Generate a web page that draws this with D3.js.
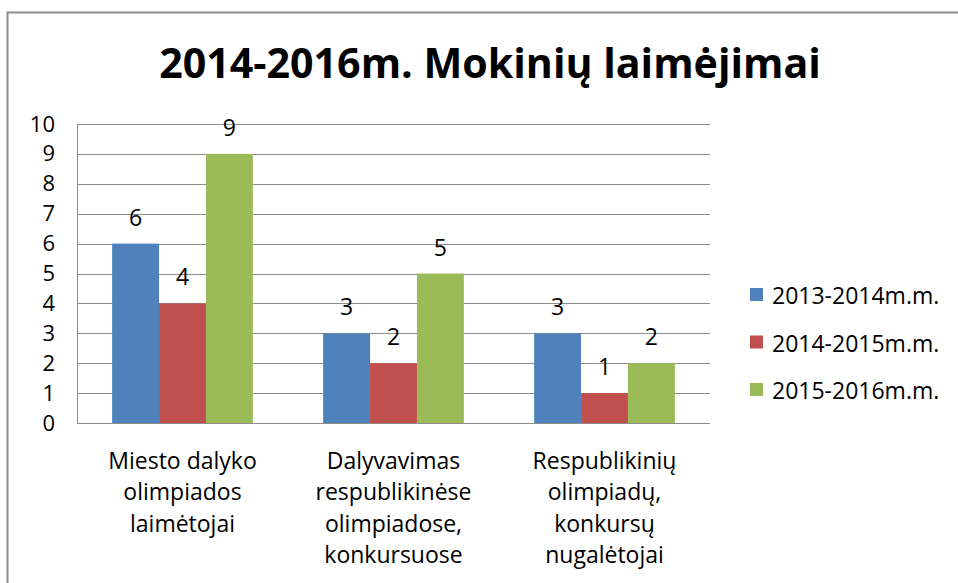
<!DOCTYPE html>
<html lang="en">
    <head>
        <meta charset="utf-8">
        <title>Mokinių laimėjimai</title>
        <script src="https://d3js.org/d3.v7.min.js"></script>
        <style media="screen">
        body { margin: 0; background: #fff; }
        text { font-family: "Open Sans", Lato, sans-serif; fill: #000; }
        .axis path, .axis line { fill: none; stroke: #8c8c8c; shape-rendering: crispEdges; }
        .axis text { font-size: 22px; font-family: "Open Sans", sans-serif; }
        .axis text.cat-label { font-size: 23px; }
        .grid line { stroke: #8c8c8c; shape-rendering: crispEdges; }
        </style>
    </head>
    <body>
        <script type="text/javascript">
        'use strict'
        let categories = [
          "Miesto dalyko\nolimpiados\nlaimėtojai",
          "Dalyvavimas\nrespublikinėse\nolimpiadose,\nkonkursuose",
          "Respublikinių\nolimpiadų,\nkonkursų\nnugalėtojai"
        ]
        let seriesNames = ["2013-2014m.m.", "2014-2015m.m.", "2015-2016m.m."]
        let series1 = [6, 3, 3]
        let series2 = [4, 2, 1]
        let series3 = [9, 5, 2]
        let yTicks = [0, 1, 2, 3, 4, 5, 6, 7, 8, 9, 10]
        let colors = ["#4F81BD", "#C0504D", "#9BBB59"]
        let title = "2014-2016m. Mokinių laimėjimai"

        let allSeries = [series1, series2, series3]
        let w = 958, h = 583
        let plot = {left: 77, right: 710, top: 124, bottom: 423}

        let svg = d3.select("body").append("svg")
          .attr("width", w).attr("height", h)

        // outer chart border
        svg.append("rect")
          .attr("x", 7.5).attr("y", 12.5)
          .attr("width", 970).attr("height", 600)
          .attr("fill", "none").attr("stroke", "#8c8c8c").attr("stroke-width", 2)

        let t = svg.append("text")
          .attr("x", 490).attr("y", 78)
          .attr("text-anchor", "middle")
          .attr("font-family", "Lato, sans-serif")
          .attr("font-weight", "bold")
          .attr("font-size", "40px")
          .text(title)
        // fit title to the reference width
        let tw = t.node().getComputedTextLength()
        t.attr("font-size", (40 * 662 / tw) + "px")

        let x0 = d3.scaleBand()
          .domain(d3.range(categories.length))
          .range([plot.left, plot.right])
          .paddingInner(0.333).paddingOuter(0.1665)
        let x1 = d3.scaleBand()
          .domain(d3.range(allSeries.length))
          .range([0, x0.bandwidth()])
        let y = d3.scaleLinear()
          .domain([0, 10])
          .range([plot.bottom, plot.top])

        svg.append("g").attr("class", "grid")
          .selectAll("line").data(yTicks.slice(1)).enter().append("line")
          .attr("x1", plot.left).attr("x2", plot.right)
          .attr("y1", d => Math.round(y(d)) + 0.5).attr("y2", d => Math.round(y(d)) + 0.5)

        let groups = svg.selectAll("g.cat")
          .data(categories.map((c, i) => allSeries.map(s => s[i])))
          .enter().append("g")
          .attr("class", "cat")
          .attr("transform", (d, i) => "translate(" + x0(i) + ",0)")

        groups.selectAll("rect")
          .data(d => d).enter().append("rect")
          .attr("x", (d, j) => x1(j))
          .attr("y", d => y(d))
          .attr("width", x1.bandwidth())
          .attr("height", d => plot.bottom - y(d))
          .attr("fill", (d, j) => colors[j])

        groups.selectAll("text.val")
          .data(d => d).enter().append("text")
          .attr("class", "val")
          .attr("x", (d, j) => x1(j) + x1.bandwidth() / 2)
          .attr("y", d => y(d) - 18)
          .attr("text-anchor", "middle")
          .attr("font-size", "23px")
          .text(d => d)

        let yAxis = svg.append("g")
          .attr("class", "axis")
          .attr("transform", "translate(" + plot.left + ",0)")
          .call(d3.axisLeft(y).tickValues(yTicks).tickSize(0).tickPadding(22))
        yAxis.select(".domain").remove()
        svg.append("line")
          .attr("x1", plot.left + 0.5).attr("x2", plot.left + 0.5)
          .attr("y1", plot.top).attr("y2", plot.bottom)
          .attr("stroke", "#8c8c8c")

        let xAxis = svg.append("g")
          .attr("class", "axis")
          .attr("transform", "translate(0," + (Math.round(plot.bottom) + 0.5) + ")")
          .call(d3.axisBottom(x0).tickSize(0).tickFormat(""))
        xAxis.select(".domain").attr("d", "M" + plot.left + ",0H" + plot.right)

        xAxis.selectAll(".tick").each(function(d) {
          let lines = categories[d].split("\n")
          let tx = d3.select(this).append("text")
            .attr("class", "cat-label")
            .attr("text-anchor", "middle")
            .attr("fill", "#000")
          lines.forEach((l, k) => {
            tx.append("tspan").attr("x", 0).attr("y", 45 + k * 31.5).text(l)
          })
        })

        let legend = svg.append("g")
          .attr("transform", "translate(750,0)")
        let items = legend.selectAll("g").data(seriesNames).enter().append("g")
          .attr("transform", (d, i) => "translate(0," + (294 + i * 47.5) + ")")
        items.append("rect")
          .attr("x", 0).attr("y", -6).attr("width", 13).attr("height", 13)
          .attr("fill", (d, i) => colors[i])
        items.append("text")
          .attr("x", 22).attr("y", 10)
          .attr("font-size", "23px")
          .text(d => d)
        </script>
    </body>
</html>
